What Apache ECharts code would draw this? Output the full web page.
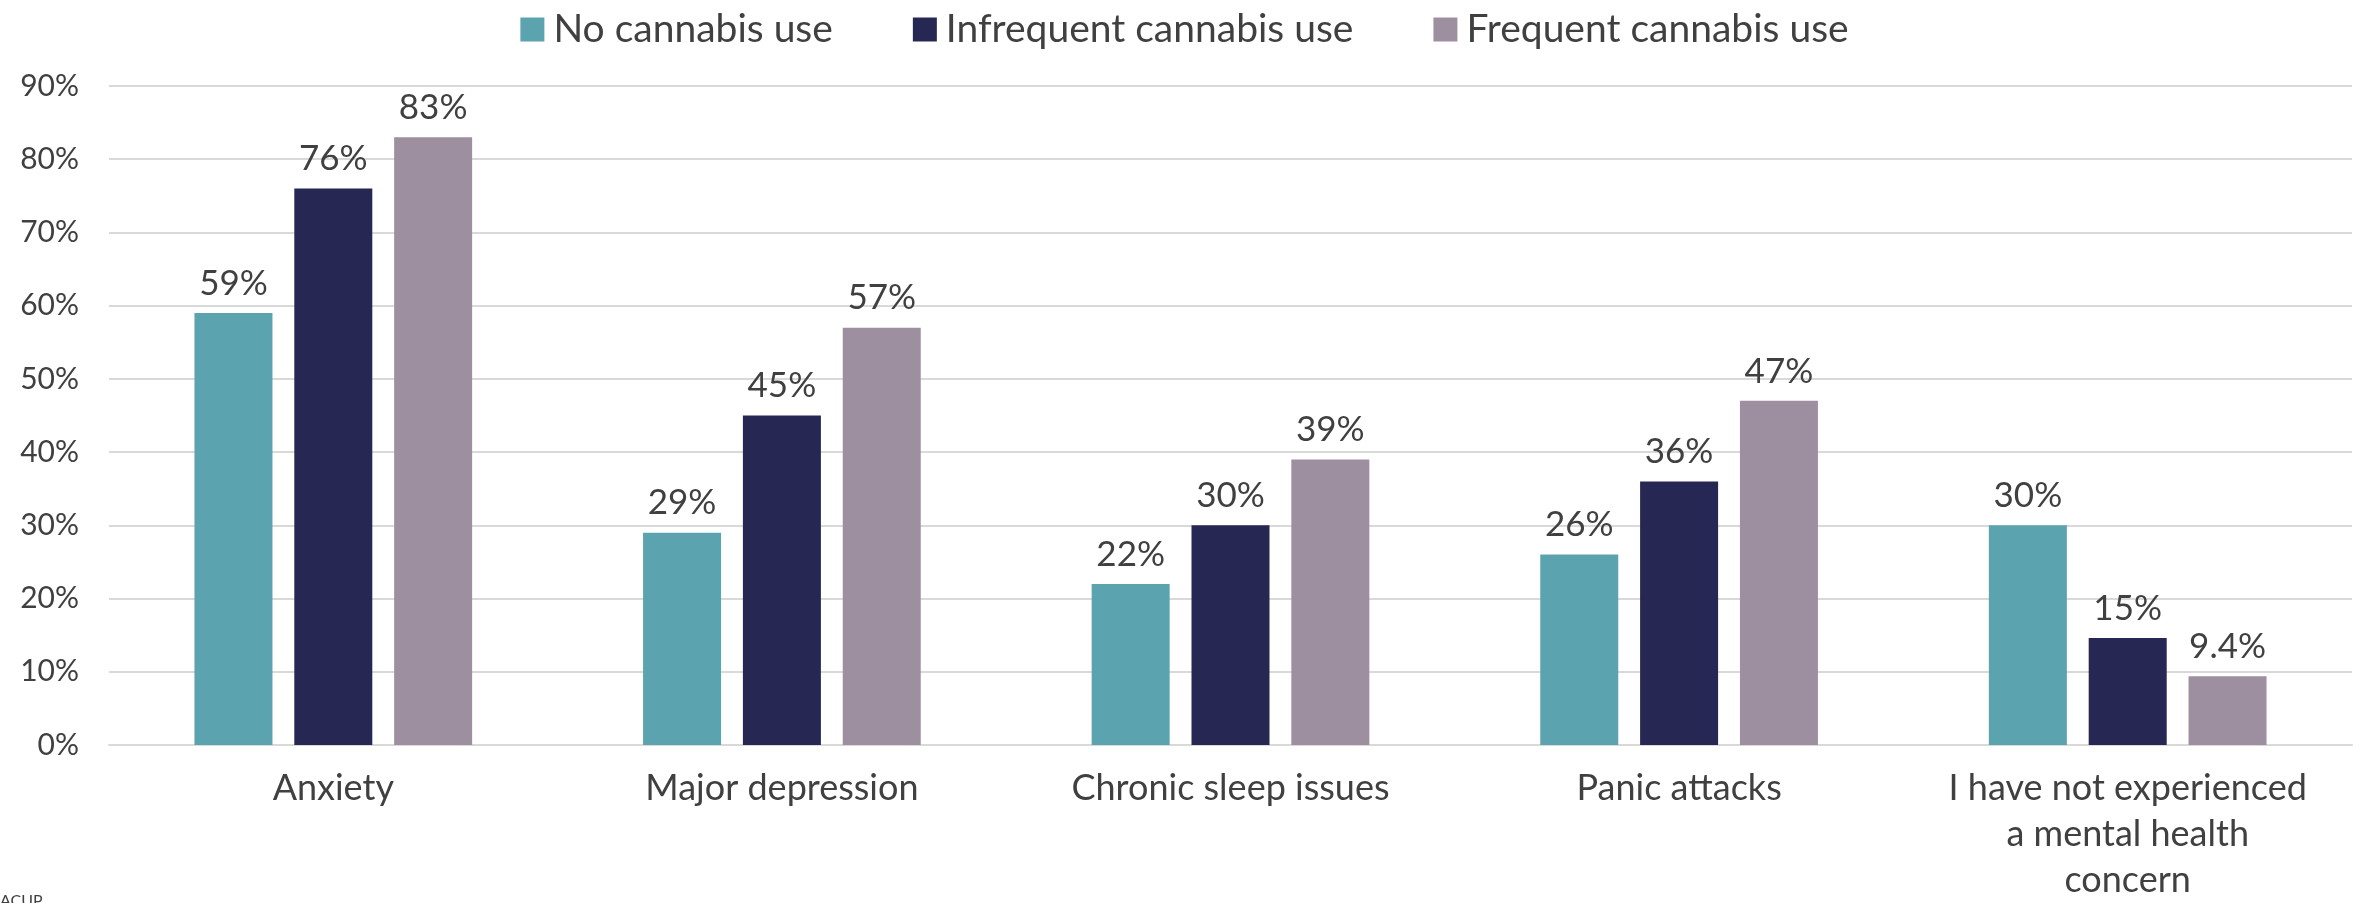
<!DOCTYPE html>
<html>
<head>
<meta charset="utf-8">
<script src="https://cdn.jsdelivr.net/npm/echarts@6/dist/echarts.min.js"></script>
<style>
html,body{margin:0;padding:0;background:#fff;}
#chart{width:2369px;height:903px;}
</style>
</head>
<body>
<div id="chart"></div>
<script>
const categories = ["Anxiety", "Major depression", "Chronic sleep issues", "Panic attacks", "I have not experienced\na mental health\nconcern"];
const seriesNames = ["No cannabis use", "Infrequent cannabis use", "Frequent cannabis use"];
const noUse = [59, 29, 22, 26, 30];
const infrequentUse = [76, 45, 30, 36, 14.6];
const frequentUse = [83, 57, 39, 47, 9.4];
const yTicks = [0, 10, 20, 30, 40, 50, 60, 70, 80, 90];

const colors = ["#5BA3AE", "#262752", "#9E8FA0"];
const FONT = "Lato";
const textColor = "#404040";

function fmt(v){ return (v < 10 ? v.toFixed(1) : Math.round(v)) + "%"; }

const chart = echarts.init(document.getElementById('chart'), null, {renderer:'canvas'});
const data = [noUse, infrequentUse, frequentUse];
chart.setOption({
  animation:false,
  color: colors,
  textStyle:{fontFamily:FONT, color:textColor},
  legend:{
    top:5, left:'center',
    itemWidth:24, itemHeight:24, itemGap:80,
    icon:'rect',
    textStyle:{fontSize:39, color:textColor, fontFamily:FONT, padding:[0,0,0,4]},
    data: seriesNames
  },
  grid:{left:109, right:17, top:86, bottom:156, containLabel:false},
  xAxis:{
    type:'category', data:categories,
    axisLine:{show:true, lineStyle:{color:'#D9D9D9', width:2}},
    axisTick:{show:false},
    axisLabel:{fontSize:36, color:textColor, fontFamily:FONT, margin:20, lineHeight:46, interval:0}
  },
  yAxis:{
    type:'value', min:yTicks[0], max:yTicks[yTicks.length-1], interval:10,
    axisLine:{show:false}, axisTick:{show:false},
    splitLine:{lineStyle:{color:'#D9D9D9', width:2}},
    axisLabel:{fontSize:30, color:textColor, fontFamily:FONT, margin:30, formatter: v => v + '%'}
  },
  series: seriesNames.map((n,i)=>({
    name:n, type:'bar', data:data[i],
    barWidth:78, barGap:'28%',
    itemStyle:{color:colors[i]},
    label:{show:true, position:'top', distance:12, fontSize:35, color:textColor, fontFamily:FONT, formatter: p => fmt(p.value)}
  })),
  graphic:[{type:'text', left:0, top:893, style:{text:'ACUP', fontSize:16, fill:textColor, fontFamily:FONT}}]
});
</script>
</body>
</html>
